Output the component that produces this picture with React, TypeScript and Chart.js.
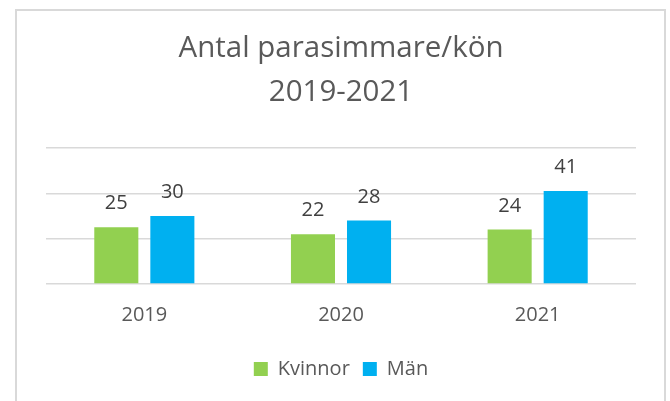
import React, { useEffect, useRef } from "react";
import { Chart, registerables } from "chart.js";

Chart.register(...registerables);

const categories = ["2019", "2020", "2021"];
const seriesNames = ["Kvinnor", "Män"];
const kvinnor = [25, 22, 24];
const man = [30, 28, 41];
const titleLines = ["Antal parasimmare/kön", "2019-2021"];

const FONT = "'Open Sans', sans-serif";

const valueLabels = {
  id: "valueLabels",
  afterDatasetsDraw(chart: any) {
    const ctx = chart.ctx;
    ctx.save();
    ctx.font = `20px ${FONT}`;
    ctx.fillStyle = "#404040";
    ctx.textAlign = "center";
    ctx.textBaseline = "alphabetic";
    chart.data.datasets.forEach((ds: any, di: number) => {
      const meta = chart.getDatasetMeta(di);
      meta.data.forEach((bar: any, i: number) => {
        ctx.fillText(String(ds.data[i]), bar.x, bar.y - 18);
      });
    });
    ctx.restore();
  },
};

export default function App() {
  const ref = useRef<HTMLCanvasElement>(null);
  useEffect(() => {
    if (!ref.current) return;
    const chart = new Chart(ref.current, {
      type: "bar",
      data: {
        labels: categories,
        datasets: [
          { label: seriesNames[0], data: kvinnor, backgroundColor: "#92D050", borderWidth: 0 },
          { label: seriesNames[1], data: man, backgroundColor: "#00B0F0", borderWidth: 0 },
        ],
      },
      options: {
        animation: false,
        responsive: false,
        maintainAspectRatio: false,
        layout: { padding: { left: 46, right: 34, top: 0, bottom: 12 } },
        datasets: { bar: { categoryPercentage: 0.57, barPercentage: 0.786 } } as any,
        plugins: {
          title: {
            display: true,
            text: titleLines,
            color: "#595959",
            font: { family: FONT, size: 29.5, weight: "normal", lineHeight: 1.475 },
            padding: { top: 27, bottom: 34 },
          },
          legend: {
            position: "bottom",
            labels: {
              color: "#595959",
              font: { family: FONT, size: 20 },
              boxWidth: 14,
              boxHeight: 14,
              padding: 13,
            },
          },
          tooltip: { enabled: false },
        },
        scales: {
          x: {
            grid: { display: false, drawTicks: false },
            border: { display: false },
            ticks: {
              color: "#595959",
              font: { family: FONT, size: 20, lineHeight: 3.1 },
              padding: 0,
            },
          },
          y: {
            min: 0,
            max: 60,
            ticks: { display: false, stepSize: 20 },
            grid: { color: "#D9D9D9", lineWidth: 1.5, drawTicks: false },
            border: { display: false },
          },
        },
      },
      plugins: [valueLabels],
    });
    return () => chart.destroy();
  }, []);

  return (
    <div style={{ position: "fixed", left: 0, top: 0, width: 670, height: 401, overflow: "hidden", background: "#fff" }}>
      <div
        style={{
          position: "absolute",
          left: 15,
          top: 9,
          width: 651,
          height: 420,
          border: "2px solid #D9D9D9",
          boxSizing: "border-box",
        }}
      />
      <canvas ref={ref} width={670} height={401} style={{ position: "absolute", left: 0, top: 0, width: 670, height: 401 }} />
    </div>
  );
}
